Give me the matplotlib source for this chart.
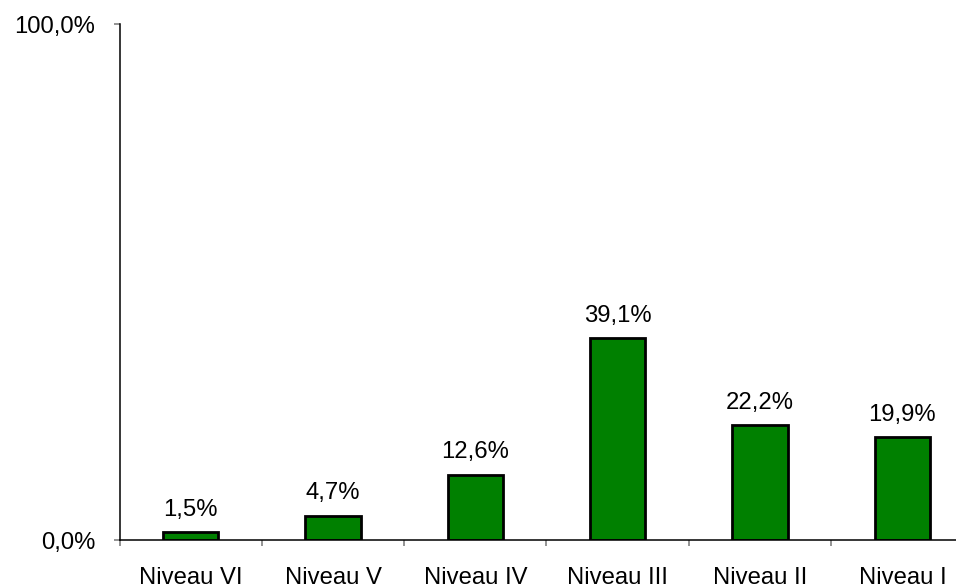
import matplotlib
matplotlib.use("Agg")
import matplotlib.pyplot as plt
import numpy as np

# ── Data ──────────────────────────────────────────────────────────────────────
CATEGORIES = ["Niveau VI", "Niveau V", "Niveau IV", "Niveau III", "Niveau II", "Niveau I"]
VALUES     = [1.5, 4.7, 12.6, 39.1, 22.2, 19.9]
Y_TICKS    = [0, 100]
Y_LABELS   = ["0,0%", "100,0%"]

plt.rcParams["font.family"] = ["Liberation Sans", "DejaVu Sans"]
FS = 17.2

fig = plt.figure(figsize=(9.56, 5.86), dpi=100)
# axes extends past the right edge, as in the original export
ax = fig.add_axes([119.5 / 956, 46 / 586, 854 / 956, 516 / 586])

x = np.arange(len(CATEGORIES))
ax.bar(x, VALUES, width=0.39, color="#008000", edgecolor="black", linewidth=2)

for xi, v in zip(x, VALUES):
    ax.annotate(f"{v:.1f}%".replace(".", ","), (xi, v), xytext=(0, 12),
                textcoords="offset points", ha="center", va="baseline",
                fontsize=FS, color="black")

ax.set_xlim(-0.5, len(CATEGORIES) - 0.5)
ax.set_ylim(0, 100)

ax.set_xticks(x)
ax.set_xticklabels(CATEGORIES, fontsize=FS)
ax.tick_params(axis="x", which="major", length=0, pad=19.5)
ax.set_xticks(np.arange(-0.5, len(CATEGORIES)), minor=True)
ax.tick_params(axis="x", which="minor", length=4, color="#808080", width=1.2)

ax.set_yticks(Y_TICKS)
ax.set_yticklabels(Y_LABELS, fontsize=FS)
ax.tick_params(axis="y", length=4.3, color="#808080", width=1.2, pad=13)

for side in ("top", "right"):
    ax.spines[side].set_visible(False)
for side in ("left", "bottom"):
    ax.spines[side].set_linewidth(1.1)
    ax.spines[side].set_color("black")

fig.savefig("out.png", dpi=100)
